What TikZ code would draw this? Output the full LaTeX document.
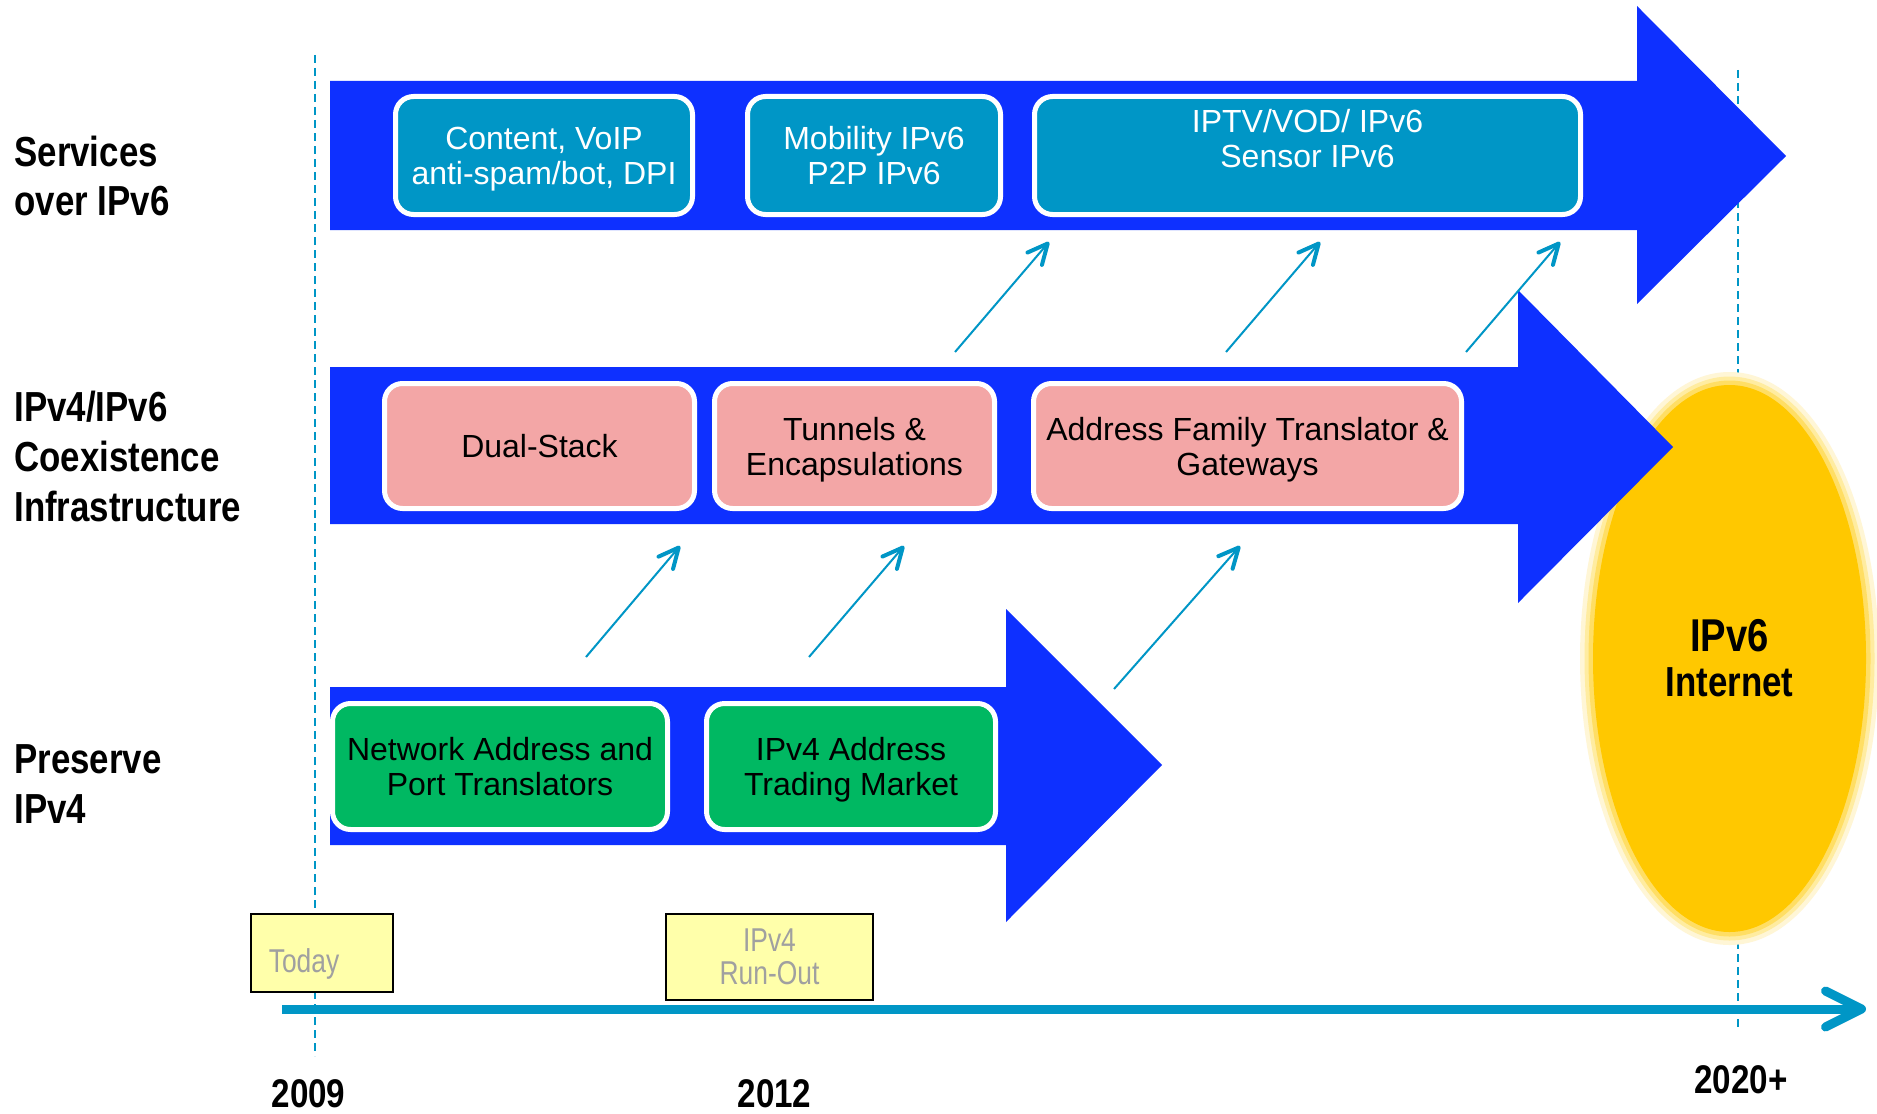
\documentclass[tikz,border=0pt]{standalone}
\usepackage{fontspec}
\setmainfont{Liberation Sans}
\newfontfamily\labfont[FakeStretch=0.83]{Liberation Sans}
\newfontfamily\narrowfont[FakeStretch=0.8]{Liberation Sans}
\usetikzlibrary{arrows.meta,shapes.geometric}
\definecolor{arrowblue}{RGB}{14,48,255}
\definecolor{svcteal}{RGB}{0,150,198}
\definecolor{lineteal}{RGB}{0,150,198}
\definecolor{coexpink}{RGB}{243,166,166}
\definecolor{presgreen}{RGB}{0,184,98}
\definecolor{noteyellow}{RGB}{255,255,170}
\definecolor{notegray}{RGB}{160,160,160}
\definecolor{inetyellow}{RGB}{255,200,0}
\definecolor{glowA}{RGB}{255,246,214}
\definecolor{glowB}{RGB}{255,236,160}
\definecolor{glowC}{RGB}{255,222,100}
\tikzset{
  rbox/.style={rounded corners=9pt, draw=white, line width=2.5pt, inner sep=0pt,
    text depth=0pt, align=center, font=\fontsize{16}{17.5}\selectfont},
  svcbox/.style={rbox, fill=svcteal, text=white},
  coexbox/.style={rbox, fill=coexpink, text=black},
  presbox/.style={rbox, fill=presgreen, text=black},
  lab/.style={anchor=base west, inner sep=0pt, font=\labfont\bfseries\fontsize{21}{21}\selectfont},
  yearlab/.style={anchor=base, inner sep=0pt, font=\labfont\bfseries\fontsize{20}{20}\selectfont},
  yearline/.style={draw=lineteal, line width=1pt, dash pattern=on 4pt off 2.5pt},
  stepup/.style={draw=lineteal, line width=1pt,
    -{Straight Barb[length=10pt,width=9.5pt,line width=2pt,round]}},
  timeline/.style={draw=lineteal, line width=4.5pt,
    -{Straight Barb[length=18pt,width=18pt,round]}},
  notebox/.style={draw=black, line width=1pt, fill=noteyellow, inner sep=0pt},
  notetext/.style={text=notegray, inner sep=0pt, font=\narrowfont\fontsize{16.5}{16.5}\selectfont},
  bigarrow/.style={fill=arrowblue},
}
\begin{document}
\begin{tikzpicture}[x=0.5pt,y=-0.5pt]
\useasboundingbox (0,0) rectangle (1877,1113);
\fill[white] (0,0) rectangle (1877,1113);

% year guide lines
\coordinate (g1a) at (315,55);   \coordinate (g1b) at (315,1056);
\coordinate (g2a) at (1738,70);  \coordinate (g2b) at (1738,1029);
\draw[yearline] (g1a) -- (g1b);
\draw[yearline] (g2a) -- (g2b);

% IPv6 Internet ellipse
\node[ellipse, fill=inetyellow, minimum width=136.5pt, minimum height=273.5pt, inner sep=0pt,
  preaction={draw=glowA, line width=13pt},
  preaction={draw=glowB, line width=8.5pt},
  preaction={draw=glowC, line width=4.5pt},
  align=center, font=\labfont\bfseries\fontsize{21}{22.5}\selectfont]
  (inet) at (1729.5,658.5) {{\fontsize{23}{22.5}\selectfont IPv6}\\Internet};

% big blue arrows
\fill[bigarrow] (330,81) -- (1637,81) -- (1637,6) -- (1786,156) -- (1637,304) -- (1637,230) -- (330,230) -- cycle;
\fill[bigarrow] (330,367) -- (1518,367) -- (1518,290) -- (1673,447) -- (1518,603) -- (1518,524) -- (330,524) -- cycle;
\fill[bigarrow] (330,687) -- (1006,687) -- (1006,609) -- (1162,765) -- (1006,922) -- (1006,845) -- (330,845) -- cycle;

% service boxes
\node[svcbox, minimum width=148.5pt, minimum height=59pt] (c1) at (544,155.5) {Content, VoIP\\anti-spam/bot, DPI};
\node[svcbox, minimum width=126.5pt, minimum height=59pt] (c2) at (874,155.5) {Mobility IPv6\\P2P IPv6};
\node[svcbox, minimum width=273pt, minimum height=59pt] (c3) at (1307.5,155.5) {IPTV/VOD/ IPv6\\Sensor IPv6\\\mbox{}};

% coexistence boxes
\node[coexbox, minimum width=155pt, minimum height=62.5pt] (d1) at (539.5,446) {Dual-Stack};
\node[coexbox, minimum width=140pt, minimum height=62.5pt] (d2) at (854.5,446) {Tunnels \&\\Encapsulations};
\node[coexbox, minimum width=214pt, minimum height=62.5pt] (d3) at (1247.5,446) {Address Family Translator \&\\Gateways};

% preserve boxes
\node[presbox, minimum width=167.5pt, minimum height=63pt] (e1) at (500,766.5) {Network Address and\\Port Translators};
\node[presbox, minimum width=144.5pt, minimum height=63pt] (e2) at (851,766.5) {IPv4 Address\\Trading Market};

% small step arrows
\coordinate (a1s) at (955,352);  \coordinate (a1e) at (1049,242);
\coordinate (a2s) at (1226,352); \coordinate (a2e) at (1320,242);
\coordinate (a3s) at (1466,352); \coordinate (a3e) at (1560,242);
\coordinate (b1s) at (586,657);  \coordinate (b1e) at (680,546);
\coordinate (b2s) at (809,657);  \coordinate (b2e) at (904,546);
\coordinate (b3s) at (1114,689); \coordinate (b3e) at (1240,546);
\draw[stepup] (a1s) -- (a1e);
\draw[stepup] (a2s) -- (a2e);
\draw[stepup] (a3s) -- (a3e);
\draw[stepup] (b1s) -- (b1e);
\draw[stepup] (b2s) -- (b2e);
\draw[stepup] (b3s) -- (b3e);

% notes
\node[notebox, minimum width=71pt, minimum height=39pt] (today) at (322,953) {};
\node[notetext, anchor=base] (todaytxt) at (304,972) {Today};
\node[notebox, minimum width=103.5pt, minimum height=43pt, align=center, text=notegray,
  font=\narrowfont\fontsize{16.5}{16.5}\selectfont] (runout) at (769.5,957) {IPv4\\Run-Out};

% timeline
\coordinate (tl0) at (282,1009); \coordinate (tl1) at (1866,1009);
\draw[timeline] (tl0) -- (tl1);

% left labels
\node[lab] (svc1) at (14,166) {Services};
\node[lab] (svc2) at (14,215) {over IPv6};
\node[lab] (co1) at (14,421) {IPv4/IPv6};
\node[lab] (co2) at (14,471) {Coexistence};
\node[lab] (co3) at (14,521) {Infrastructure};
\node[lab] (pr1) at (14,773) {Preserve};
\node[lab] (pr2) at (14,823) {IPv4};

% years
\node[yearlab] (y2009) at (308.5,1107) {2009};
\node[yearlab] (y2012) at (774.5,1107) {2012};
\node[yearlab] (y2020) at (1741,1093) {2020+};
\end{tikzpicture}
\end{document}
